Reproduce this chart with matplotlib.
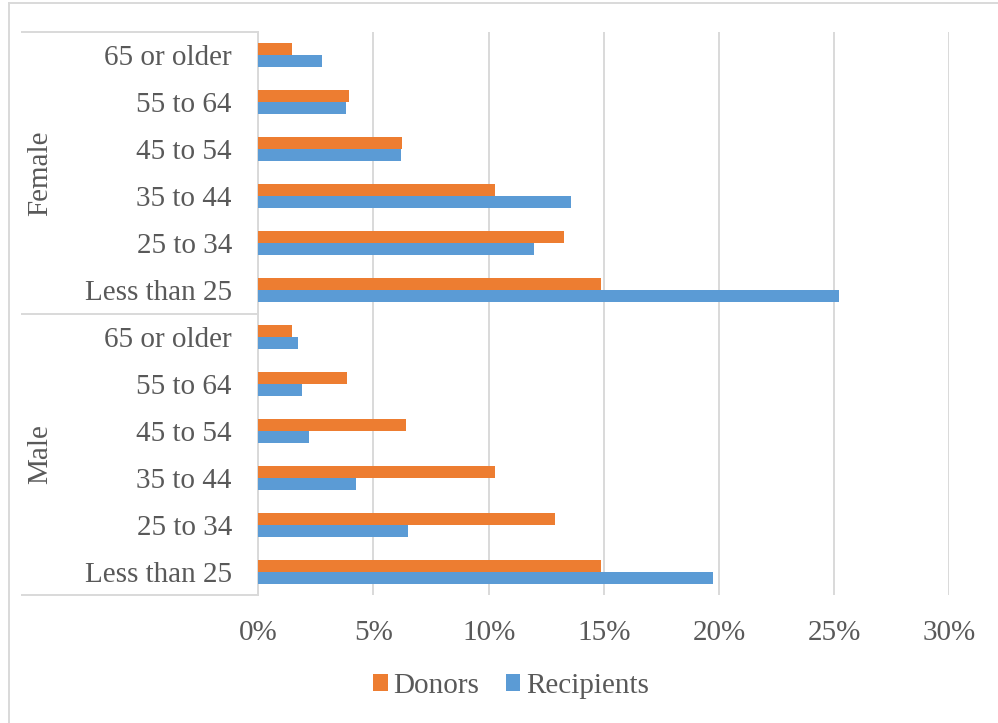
import matplotlib.pyplot as plt
from matplotlib.lines import Line2D
import numpy as np

################################################################################
# Data (percent), rows listed bottom to top inside each group.                 #
################################################################################

age_groups = ["Less than 25", "25 to 34", "35 to 44", "45 to 54", "55 to 64", "65 or older"]
genders = ["Male", "Female"]

male_donors = [14.88, 12.88, 10.26, 6.42, 3.87, 1.47]
male_recipients = [19.76, 6.52, 4.24, 2.21, 1.90, 1.72]
female_donors = [14.90, 13.26, 10.28, 6.22, 3.94, 1.46]
female_recipients = [25.20, 11.98, 13.57, 6.19, 3.81, 2.75]

x_ticks = [0, 5, 10, 15, 20, 25, 30]

donors = np.array(male_donors + female_donors)
recipients = np.array(male_recipients + female_recipients)
row_labels = age_groups + age_groups

################################################################################
# Plot.                                                                        #
################################################################################

plt.rcParams['font.family'] = ['Liberation Serif', 'DejaVu Serif']
txt_col = '#595959'
grid_col = '#d9d9d9'
orange = '#ED7D31'
blue = '#5B9BD5'
fs = 21

fig = plt.figure(figsize=(9.98, 7.23), dpi=100)
ax = fig.add_axes([258.3/998, 1 - 595/723, 691/998, 563/723])

y = np.arange(len(row_labels))
h = 0.256
ax.barh(y + h/2, donors, height=h, color=orange, label='Donors', zorder=3)
ax.barh(y - h/2, recipients, height=h, color=blue, label='Recipients', zorder=3)

ax.set_xlim(0, 30)
ax.set_ylim(-0.5, len(row_labels) - 0.5)
ax.set_xticks(x_ticks)
ax.set_xticklabels([f'{t}%' for t in x_ticks])
ax.set_yticks(y)
ax.set_yticklabels(row_labels)
ax.tick_params(axis='y', length=0, pad=19, labelsize=fs, labelcolor=txt_col)
ax.tick_params(axis='x', length=0, pad=18, labelsize=fs, labelcolor=txt_col)
ax.grid(axis='x', color=grid_col, lw=1.4, zorder=0)
for s in ['top', 'right', 'bottom']:
    ax.spines[s].set_visible(False)
ax.spines['left'].set_color(grid_col)
ax.spines['left'].set_linewidth(1.4)

# Group separators and labels on the category axis.
tr = ax.get_yaxis_transform()
x_left = (22 - 258.3) / 691
for yy in [-0.5, 5.5, 11.5]:
    ax.plot([x_left, 0], [yy, yy], transform=tr, color=grid_col, lw=1.4, clip_on=False)
for i, g in enumerate(genders):
    ax.text((40 - 258.3) / 691, i*6 + 2.5, g, transform=tr, rotation=90,
            ha='center', va='center', fontsize=fs, color=txt_col)

# Chart border (left and top edges visible).
fig.add_artist(Line2D([9/998, 9/998], [0, 1 - 3/723], color=grid_col, lw=1.4))
fig.add_artist(Line2D([9/998, 1], [1 - 3/723, 1 - 3/723], color=grid_col, lw=1.4))

# Legend.
leg = fig.legend(loc='center', bbox_to_anchor=(511/998, 1 - 686/723), ncol=2,
                 frameon=False, fontsize=fs, handlelength=0.5, handleheight=0.5,
                 handletextpad=0.2, columnspacing=0.9, labelcolor=txt_col)

fig.savefig('out.png', dpi=100)
plt.close()
